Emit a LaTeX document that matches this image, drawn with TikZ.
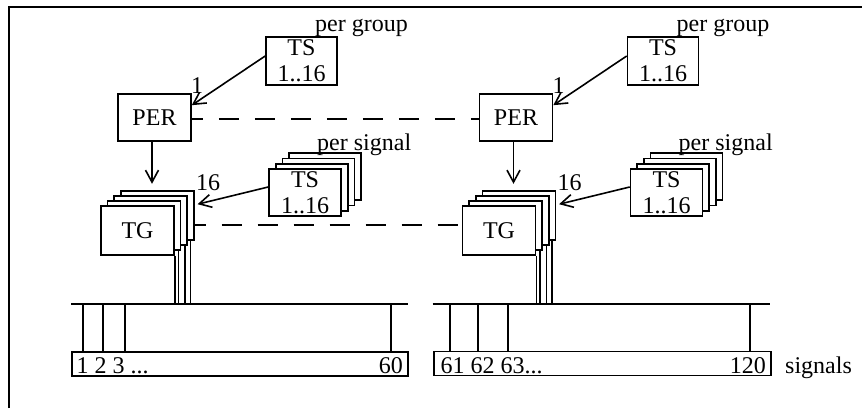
\documentclass[tikz,border=0pt]{standalone}
\usepackage{fontspec}
\setmainfont{Liberation Serif}
\usetikzlibrary{arrows.meta}
\newcommand\figfs{\fontsize{24}{26}\selectfont}
\begin{document}
\begin{tikzpicture}[x=1pt,y=-1pt,
  lw/.style={line width=1.6pt},
  bx/.style={draw, fill=white, line width=1.6pt, inner sep=0pt, align=center, font=\figfs},
  txt/.style={inner sep=0pt, font=\figfs},
  arr/.style={line width=1.6pt, -{Straight Barb[length=12pt,width=13pt]}},
  dsh/.style={line width=1.6pt, dash pattern=on 20pt off 16pt, dash phase=9pt}]
\useasboundingbox (0,0) rectangle (862,408);
% frame
\coordinate (fa) at (9,408);
\coordinate (fb) at (9,7);
\coordinate (fc) at (862,7);
\draw[line width=2pt] (fa) -- (fb) -- (fc);

\foreach \s/\d in {L/0,R/361.5}{
\begin{scope}[xshift=\d pt]
  % TS per group
  \node[bx, minimum width=71pt, minimum height=48pt] (TSg\s) at (301.5,61) {TS\\1..16};
  \node[txt, anchor=base west] (pg\s) at (315,31) {per group};
  % PER
  \node[bx, minimum width=73pt, minimum height=47pt] (PER\s) at (154.5,117.5) {PER};
  \node[txt, anchor=base] (one\s) at (197,93) {1};
  % TS per signal stack
  \node[bx, minimum width=72pt, minimum height=47pt] (TSd\s) at (325.1,176.6) {};
  \node[bx, minimum width=72pt, minimum height=47pt] (TSc\s) at (318.4,181.9) {};
  \node[bx, minimum width=72pt, minimum height=47pt] (TSb\s) at (311.7,187.2) {};
  \node[bx, minimum width=72pt, minimum height=47pt] (TSa\s) at (305,192.5) {TS\\1..16};
  \node[txt, anchor=base west] (ps\s) at (317,150) {per signal};
  % TG stack
  \node[bx, minimum width=73pt, minimum height=49pt] (TGd\s) at (157.3,215.5) {};
  \node[bx, minimum width=73pt, minimum height=49pt] (TGc\s) at (150.7,220.5) {};
  \node[bx, minimum width=73pt, minimum height=49pt] (TGb\s) at (144.1,225.5) {};
  \node[bx, minimum width=73pt, minimum height=49pt] (TGa\s) at (137.5,230.5) {TG};
  \node[txt, anchor=base] (sixteen\s) at (208,190) {16};
  % arrows
  \draw[arr] ([yshift=5pt]TSg\s.west) -- ([yshift=-12pt]PER\s.north east);
  \draw[arr] ([xshift=-2.5pt]PER\s.south) -- ++(0,42);
  \draw[arr] ([yshift=5.5pt]TSa\s.west) -- ([xshift=3pt,yshift=-14pt]TGd\s.north east);
  % bus
  \coordinate (busa\s) at (71,304);
  \coordinate (busb\s) at (408,304);
  \draw[lw] (busa\s) -- (busb\s);
  % TG outputs to bus
  \draw[lw] (TGa\s.south east) -- (TGa\s.south east |- busa\s);
  \draw[lw] ([xshift=-3pt]TGb\s.south east) -- ([xshift=-3pt]TGb\s.south east |- busa\s);
  \draw[lw] ([xshift=-3pt]TGc\s.south east) -- ([xshift=-3pt]TGc\s.south east |- busa\s);
  \draw[lw] ([xshift=-4pt]TGd\s.south east) -- ([xshift=-4pt]TGd\s.south east |- busa\s);
\end{scope}
}

% dashed links between halves
\draw[dsh] ([yshift=-1.5pt]PERL.east) -- ([yshift=-1.5pt]PERR.west);
\draw[dsh] ([yshift=-9.5pt]TGdL.east) -- ([yshift=5.5pt]TGaR.west);

% signal boxes
\node[bx, minimum width=336pt, minimum height=24pt] (sigL) at (240,364) {};
\node[bx, minimum width=337pt, minimum height=24pt] (sigR) at (602.5,363.5) {};
\foreach \x [count=\i] in {83,103,125,391}{
  \coordinate (tL\i) at (\x,304);
  \draw[lw] (tL\i) -- (tL\i |- sigL.north);
}
\foreach \x [count=\i] in {450,478,508,750}{
  \coordinate (tR\i) at (\x,304);
  \draw[lw] (tR\i) -- (tR\i |- sigR.north);
}
\node[txt, anchor=base west] (numL) at (76.5,373) {1 2 3 ...};
\node[txt, anchor=base east] (sixty) at (403,373) {60};
\node[txt, anchor=base west] (numR) at (440.5,373) {61 62 63...};
\node[txt, anchor=base east] (onetwenty) at (766,373) {120};
\node[txt, anchor=base west] (signals) at (785,373) {signals};
\end{tikzpicture}
\end{document}
